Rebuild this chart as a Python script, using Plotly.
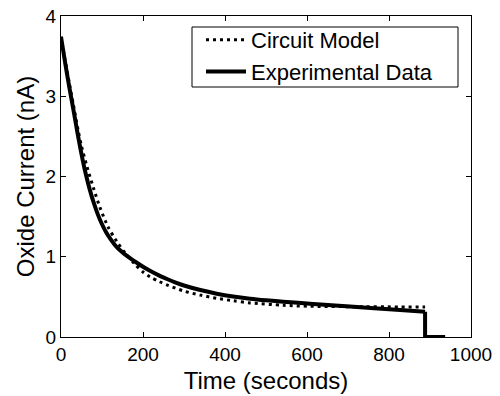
import plotly.graph_objects as go

# Experimental data (solid) - decay part
exp_t = [0, 10, 20, 30, 40, 50, 60, 70, 80, 90, 100, 110, 120, 130, 140, 150, 160, 170, 185, 200,
         217, 240, 260, 280, 300, 340, 380, 420, 461, 500, 542, 607, 705, 827, 888]
exp_v = [3.74, 3.42, 3.12, 2.84, 2.55, 2.28, 2.04, 1.84, 1.67, 1.525, 1.405, 1.305, 1.225, 1.157, 1.10, 1.055, 1.015, 0.978, 0.925, 0.875,
         0.825, 0.765, 0.72, 0.678, 0.642, 0.585, 0.54, 0.505, 0.478, 0.458, 0.44, 0.415, 0.38, 0.337, 0.315]
# Experimental data - switch-off step
exp_off_t = [888, 888, 937]
exp_off_v = [0.315, 0.0, 0.0]

# Circuit model (dotted)
mod_t = [0, 10, 20, 30, 42, 50, 63, 79, 95, 115, 136, 156, 180, 200, 217, 240, 258, 298, 340, 380,
         420, 461, 542, 607, 705, 827, 888]
mod_v = [3.74, 3.45, 3.17, 2.90, 2.57, 2.38, 2.13, 1.86, 1.615, 1.37, 1.19, 1.05, 0.91, 0.81, 0.75, 0.69, 0.65, 0.575, 0.522, 0.482,
         0.452, 0.425, 0.395, 0.383, 0.378, 0.375, 0.375]

x_ticks = [0, 200, 400, 600, 800, 1000]
y_ticks = [0, 1, 2, 3, 4]

FONT = "Liberation Sans, Arial, sans-serif"

fig = go.Figure()
fig.add_trace(go.Scatter(x=mod_t, y=mod_v, mode="lines", name="Circuit Model",
                         line=dict(color="black", width=3, dash="3px,4px", shape="spline", smoothing=0.8)))
fig.add_trace(go.Scatter(x=exp_t, y=exp_v, mode="lines", name="Experimental Data",
                         legendgroup="exp",
                         line=dict(color="black", width=4, shape="spline", smoothing=0.8)))
fig.add_trace(go.Scatter(x=exp_off_t, y=exp_off_v, mode="lines", name="Experimental Data",
                         legendgroup="exp", showlegend=False,
                         line=dict(color="black", width=4)))

axis_common = dict(showline=True, linecolor="black", linewidth=1, mirror="ticks",
                   ticks="inside", ticklen=5, tickcolor="black", showgrid=False,
                   zeroline=False, automargin=False,
                   tickfont=dict(size=19, color="black", family=FONT))

fig.update_xaxes(range=[0, 1000], tickvals=x_ticks, ticktext=[str(v) for v in x_ticks],
                 title=dict(text="Time (seconds)", font=dict(size=24, color="black", family=FONT), standoff=8),
                 **axis_common)
fig.update_yaxes(range=[0, 4], tickvals=y_ticks, ticktext=[str(v) for v in y_ticks],
                 title=dict(text="Oxide Current (nA)", font=dict(size=24, color="black", family=FONT), standoff=4),
                 **axis_common)

# legend frame (box) in paper coordinates
fig.add_shape(type="rect", xref="paper", yref="paper",
              x0=(192 - 61) / 410, x1=(458 - 61) / 410,
              y0=(337 - 87) / 321, y1=(337 - 27) / 321,
              line=dict(color="black", width=1), fillcolor="white", layer="below")

fig.update_layout(
    width=500, height=396,
    margin=dict(l=61, r=29, t=16, b=59, pad=0),
    plot_bgcolor="white", paper_bgcolor="white",
    font=dict(family=FONT, color="black"),
    legend=dict(x=(201 - 61) / 410, y=(337 - 19) / 321, xanchor="left", yanchor="top",
                borderwidth=0, bgcolor="rgba(0,0,0,0)",
                font=dict(size=22, color="black", family=FONT),
                tracegroupgap=0, itemwidth=40),
    showlegend=True,
)

fig.write_html("out.html")
